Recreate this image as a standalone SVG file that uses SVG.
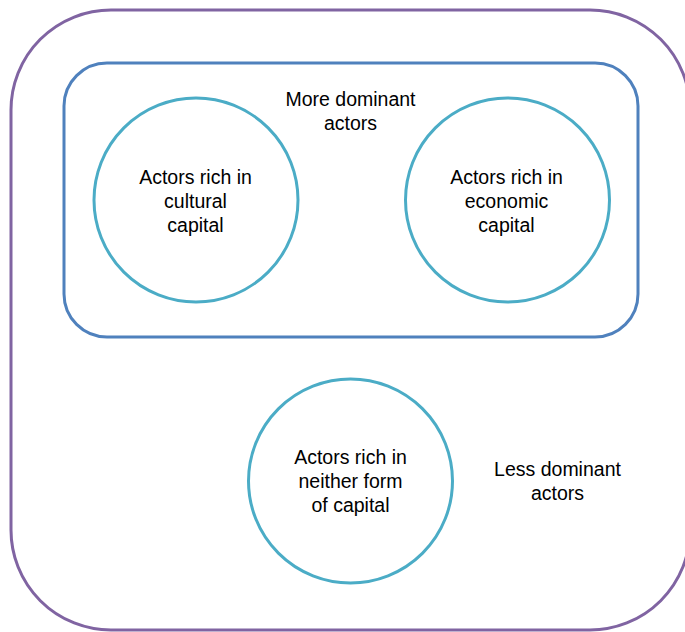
<svg xmlns="http://www.w3.org/2000/svg" width="685" height="632" viewBox="0 0 685 632">
<style>
.outer{fill:none;stroke:#8064A2;stroke-width:3}
.inner{fill:none;stroke:#4F81BD;stroke-width:3}
.circ{fill:none;stroke:#4BACC6;stroke-width:3}
text{font-family:"Liberation Sans",Arial,sans-serif;font-size:19.5px;fill:#000;text-anchor:middle}
</style>
<rect width="685" height="632" fill="#fff"/>
<g id="less-dominant">
<rect class="outer" x="11" y="10" width="679" height="620" rx="100" ry="100"/>
<text x="557.5" y="476">Less dominant</text>
<text x="557.5" y="500">actors</text>
</g>
<g id="more-dominant">
<rect class="inner" x="64" y="63" width="574" height="274" rx="43" ry="43"/>
<text x="350.5" y="106">More dominant</text>
<text x="350.5" y="130">actors</text>
</g>
<g id="cultural">
<circle class="circ" cx="196" cy="200" r="102"/>
<text x="195.5" y="184">Actors rich in</text>
<text x="195.5" y="208">cultural</text>
<text x="195.5" y="232">capital</text>
</g>
<g id="economic">
<circle class="circ" cx="507.5" cy="200" r="102"/>
<text x="506.5" y="184">Actors rich in</text>
<text x="506.5" y="208">economic</text>
<text x="506.5" y="232">capital</text>
</g>
<g id="neither">
<circle class="circ" cx="350.5" cy="481" r="102"/>
<text x="350.5" y="464">Actors rich in</text>
<text x="350.5" y="488">neither form</text>
<text x="350.5" y="512">of capital</text>
</g>
<g id="connectors"></g>
</svg>
